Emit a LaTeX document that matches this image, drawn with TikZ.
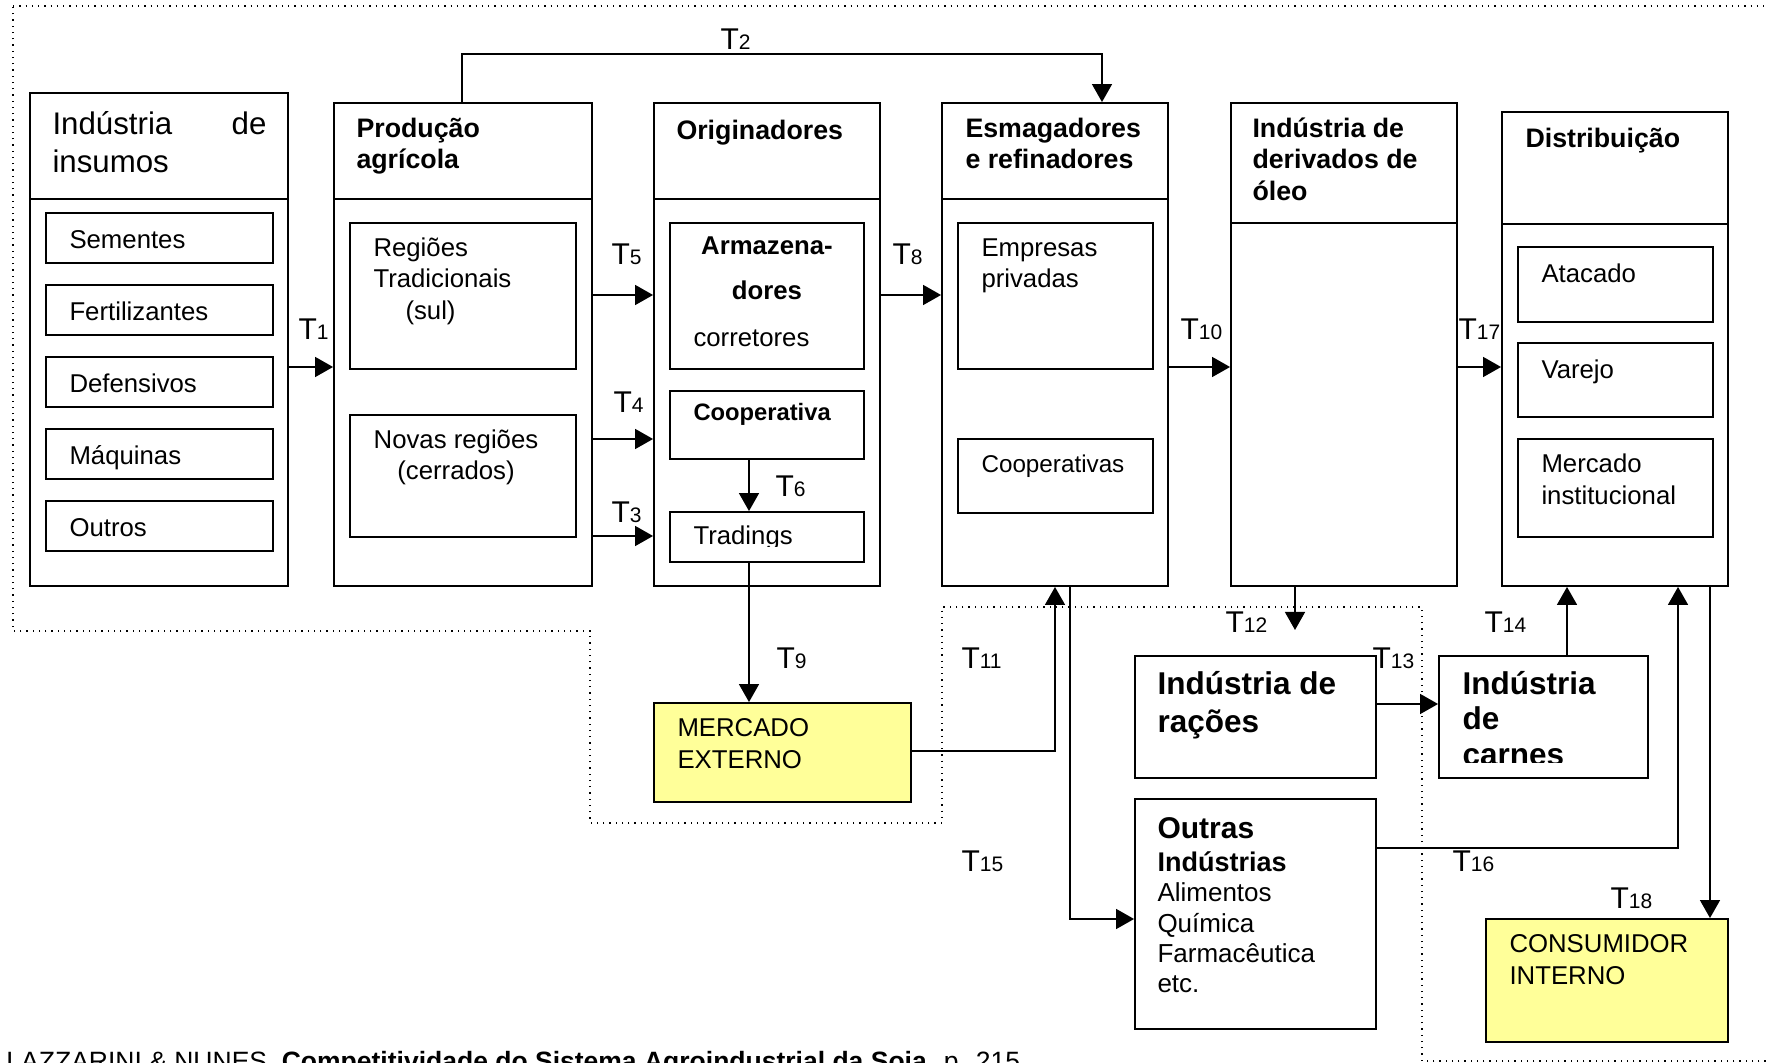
\documentclass[tikz,border=0pt]{standalone}
\usepackage{fontspec}
\setmainfont{Liberation Sans}
\usetikzlibrary{arrows.meta,fit}
\definecolor{yel}{RGB}{255,255,153}
\newcommand\TT[1]{{\fontsize{12}{14}\selectfont T}{\fontsize{8.4}{10}\selectfont #1}}
\begin{document}
\begin{tikzpicture}[x=0.4pt,y=-0.4pt,
 box/.style={draw,line width=0.75pt,inner sep=0pt},
 ybox/.style={box,fill=yel},
 arr/.style={line width=0.6pt,-{Triangle[length=7.2pt,width=8pt]}},
 divl/.style={line width=0.75pt},
 txt/.style={anchor=base west,inner sep=0pt,font=\fontsize{10.3}{12}\selectfont},
 ctxt/.style={txt,anchor=base},
 hdr/.style={anchor=base west,inner sep=0pt,font=\fontsize{10.7}{12}\selectfont\bfseries},
 big/.style={anchor=base west,inner sep=0pt,font=\fontsize{12.6}{14}\selectfont\bfseries},
 lbl/.style={anchor=base west,inner sep=0pt},
 bnd/.style={dotted,line width=0.5pt}]
\useasboundingbox (0,0) rectangle (1767,1063);

% dotted boundary
\draw[bnd] (13,6) -- (1790,6) -- (1790,1061) -- (1422,1061) -- (1422,607) -- (942,607) -- (942,823) -- (590,823) -- (590,631) -- (13,631) -- cycle;

% main columns
\node[box,fit={(30,93) (288,586)}] (ins) {};
\node[box,fit={(334,103) (592,586)}] (prod) {};
\node[box,fit={(654,103) (880,586)}] (orig) {};
\node[box,fit={(942,103) (1168,586)}] (esm) {};
\node[box,fit={(1231,103) (1457,586)}] (der) {};
\node[box,fit={(1502,112) (1728,586)}] (dist) {};
\draw[divl] (ins.west |- 0,199) -- (ins.east |- 0,199);
\draw[divl] (prod.west |- 0,199) -- (prod.east |- 0,199);
\draw[divl] (orig.west |- 0,199) -- (orig.east |- 0,199);
\draw[divl] (esm.west |- 0,199) -- (esm.east |- 0,199);
\draw[divl] (der.west |- 0,223) -- (der.east |- 0,223);
\draw[divl] (dist.west |- 0,224) -- (dist.east |- 0,224);

% inner boxes
\node[box,fit={(46,213) (273,263)}] (sem) {};
\node[box,fit={(46,285) (273,335)}] (fer) {};
\node[box,fit={(46,357) (273,407)}] (def) {};
\node[box,fit={(46,429) (273,479)}] (maq) {};
\node[box,fit={(46,501) (273,551)}] (outros) {};
\node[box,fit={(350,223) (576,369)}] (reg) {};
\node[box,fit={(350,415) (576,537)}] (nov) {};
\node[box,fit={(670,223) (864,369)}] (arm) {};
\node[box,fit={(670,391) (864,459)}] (coop) {};
\node[box,fit={(670,512) (864,562)}] (trad) {};
\node[box,fit={(958,223) (1153,369)}] (emp) {};
\node[box,fit={(958,439) (1153,513)}] (coops) {};
\node[box,fit={(1518,247) (1713,322)}] (ata) {};
\node[box,fit={(1518,343) (1713,417)}] (var) {};
\node[box,fit={(1518,439) (1713,537)}] (mer) {};
\node[ybox,fit={(654,703) (911,802)}] (mext) {};
\node[box,fit={(1135,656) (1376,778)}] (rac) {};
\node[box,fit={(1439,656) (1648,778)}] (car) {};
\node[box,fit={(1135,799) (1376,1029)}] (outr) {};
\node[ybox,fit={(1486,919) (1728,1042)}] (cons) {};

% header texts
\node[txt,font=\fontsize{12.5}{14}\selectfont] (h1a) at (52,135) {Indústria};
\node[txt,font=\fontsize{12.5}{14}\selectfont,anchor=base east] (h1b) at (267,135) {de};
\node[txt,font=\fontsize{12.5}{14}\selectfont] (h1c) at (52,173) {insumos};
\node[hdr] (h2a) at (356,138) {Produção};
\node[hdr] (h2b) at (356,169) {agrícola};
\node[hdr] (h3a) at (676,140) {Originadores};
\node[hdr] (h4a) at (965,138) {Esmagadores};
\node[hdr] (h4b) at (965,169) {e refinadores};
\node[hdr] (h5a) at (1252,138) {Indústria de};
\node[hdr] (h5b) at (1252,169) {derivados de};
\node[hdr] (h5c) at (1252,201) {óleo};
\node[hdr] (h6a) at (1525,148) {Distribuição};

% inner texts
\node[txt] (tsem) at (69,249) {Sementes};
\node[txt] (tfer) at (69,321) {Fertilizantes};
\node[txt] (tdef) at (69,393) {Defensivos};
\node[txt] (tmaq) at (69,465) {Máquinas};
\node[txt] (tout) at (69,537) {Outros};
\node[txt] (treg1) at (373,257) {Regiões};
\node[txt] (treg2) at (373,288) {Tradicionais};
\node[txt] (treg3) at (405,320) {(sul)};
\node[ctxt] (tnov1) at (456,449) {Novas regiões};
\node[ctxt] (tnov2) at (456,480) {(cerrados)};
\node[ctxt,font=\fontsize{10.3}{12}\selectfont\bfseries] (tarm1) at (767,255) {Armazena-};
\node[ctxt,font=\fontsize{10.3}{12}\selectfont\bfseries] (tarm2) at (767,300) {dores};
\node[txt] (tcor) at (693,347) {corretores};
\node[txt,font=\fontsize{9.5}{12}\selectfont\bfseries] (tcoop) at (693,421) {Cooperativa};
\begin{scope}
\clip (670,512) rectangle (864,547);
\node[txt] (ttrad) at (693,545) {Tradings};
\end{scope}
\node[txt] (temp1) at (981,257) {Empresas};
\node[txt] (temp2) at (981,288) {privadas};
\node[txt,font=\fontsize{9.7}{12}\selectfont] (tcoops) at (981,473) {Cooperativas};
\node[txt] (tata) at (1541,283) {Atacado};
\node[txt] (tvar) at (1541,379) {Varejo};
\node[txt] (tmer1) at (1541,473) {Mercado};
\node[txt] (tmer2) at (1541,505) {institucional};
\node[txt] (tmext1) at (677,737) {MERCADO};
\node[txt] (tmext2) at (677,769) {EXTERNO};
\node[txt] (tcons1) at (1509,953) {CONSUMIDOR};
\node[txt] (tcons2) at (1509,985) {INTERNO};
\node[big] (trac1) at (1157,695) {Indústria de};
\node[big] (trac2) at (1157,733) {rações};
\begin{scope}
\clip (1439,656) rectangle (1648,763);
\node[big] (tcar1) at (1462,695) {Indústria};
\node[big] (tcar2) at (1462,730) {de};
\node[big] (tcar3) at (1462,766) {carnes};
\end{scope}
\node[big,font=\fontsize{12}{14}\selectfont\bfseries] (tou1) at (1157,839) {Outras};
\node[big,font=\fontsize{10.8}{14}\selectfont\bfseries] (tou2) at (1157,872) {Indústrias};
\node[txt,font=\fontsize{10.4}{12}\selectfont] (tou3) at (1157,902) {Alimentos};
\node[txt,font=\fontsize{10.4}{12}\selectfont] (tou4) at (1157,933) {Química};
\node[txt,font=\fontsize{10.4}{12}\selectfont] (tou5) at (1157,963) {Farmacêutica};
\node[txt,font=\fontsize{10.4}{12}\selectfont] (tou6) at (1157,993) {etc.};

% connectors
\draw[arr] (ins.east |- 0,367) -- (prod.west |- 0,367);
\draw[arr] (prod.north -| 462,0) -- ++(0,-48) -| (esm.north -| 1102,0);
\draw[arr] (prod.east |- 0,295) -- (orig.west |- 0,295);
\draw[arr] (prod.east |- 0,439) -- (orig.west |- 0,439);
\draw[arr] (prod.east |- 0,536) -- (orig.west |- 0,536);
\draw[arr] (coop.south -| 749,0) -- (trad.north -| 749,0);
\draw[arr] (trad.south -| 749,0) -- (mext.north -| 749,0);
\draw[arr] (orig.east |- 0,295) -- (esm.west |- 0,295);
\draw[arr] (esm.east |- 0,367) -- (der.west |- 0,367);
\draw[arr] (der.east |- 0,367) -- (dist.west |- 0,367);
\draw[arr] (mext.east |- 0,751) -| (esm.south -| 1055,0);
\draw[arr] (esm.south -| 1070,0) |- (outr.west |- 0,919);
\coordinate (t12end) at (1295,630);
\draw[arr] (der.south -| 1295,0) -- (t12end);
\draw[arr] (rac.east |- 0,704) -- (car.west |- 0,704);
\draw[arr] (car.north -| 1567,0) -- (dist.south -| 1567,0);
\draw[arr] (outr.east |- 0,848) -| (dist.south -| 1678,0);
\draw[arr] (dist.south -| 1710,0) -- (cons.north -| 1710,0);

% labels
\node[lbl] (l1) at (298,340) {\TT{1}};
\node[lbl] (l2) at (720,50) {\TT{2}};
\node[lbl] (l5) at (611,265) {\TT{5}};
\node[lbl] (l4) at (613,413) {\TT{4}};
\node[lbl] (l3) at (611,523) {\TT{3}};
\node[lbl] (l6) at (775,497) {\TT{6}};
\node[lbl] (l9) at (776,669) {\TT{9}};
\node[lbl] (l8) at (892,265) {\TT{8}};
\node[lbl] (l10) at (1180,340) {\TT{10}};
\node[lbl] (l17) at (1458,340) {\TT{17}};
\node[lbl] (l11) at (961,669) {\TT{11}};
\node[lbl] (l12) at (1225,633) {\TT{12}};
\node[lbl] (l13) at (1372,669) {\TT{13}};
\node[lbl] (l14) at (1484,633) {\TT{14}};
\node[lbl] (l15) at (961,872) {\TT{15}};
\node[lbl] (l16) at (1452,872) {\TT{16}};
\node[lbl] (l18) at (1610,909) {\TT{18}};

% source line (cut by the page edge, as in the reference)
\node[txt,font=\fontsize{10.6}{12}\selectfont] (src) at (6,1071) {LAZZARINI \& NUNES. \textbf{Competitividade do Sistema Agroindustrial da Soja}. p. 215};
\end{tikzpicture}
\end{document}
